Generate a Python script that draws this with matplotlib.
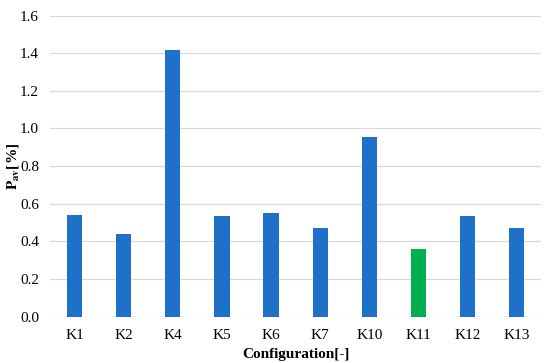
import matplotlib
matplotlib.use("Agg")
import matplotlib.pyplot as plt

categories = ["K1", "K2", "K4", "K5", "K6", "K7", "K10", "K11", "K12", "K13"]
values = [0.539, 0.438, 1.415, 0.536, 0.550, 0.470, 0.956, 0.358, 0.536, 0.473]
colors = ["#1F70C8"] * 10
colors[7] = "#00B050"
yticks = [0.0, 0.2, 0.4, 0.6, 0.8, 1.0, 1.2, 1.4, 1.6]

plt.rcParams['font.family'] = 'serif'
plt.rcParams['font.serif'] = ['Liberation Serif', 'Times New Roman', 'DejaVu Serif']
plt.rcParams['mathtext.fontset'] = 'stix'

fig = plt.figure(figsize=(5.5, 3.63), dpi=100)
ax = fig.add_axes([0.091, 0.128, 0.893, 0.829])
x = list(range(len(categories)))
ax.bar(x, values, width=0.31, color=colors, zorder=3)
ax.set_xlim(-0.5, len(categories) - 0.5)
ax.set_ylim(0, 1.6)
ax.set_yticks(yticks)
ax.set_yticklabels([f"{t:.1f}" for t in yticks], fontsize=11)
ax.set_xticks(x)
ax.set_xticklabels(categories, fontsize=11)
ax.grid(axis='y', color='#D9D9D9', linewidth=0.9, zorder=0)
for s in ax.spines.values():
    s.set_visible(False)
ax.tick_params(axis='x', length=0, pad=9)
ax.tick_params(axis='y', length=0, pad=8)
ax.set_xlabel("Configuration[-]", fontsize=11, fontweight='bold', labelpad=4)
ax.set_ylabel(r"$\mathbf{P}_{\mathbf{av}}$[%]", fontsize=11, fontweight='bold')
ax.yaxis.set_label_coords(-0.076, 0.5)
ax.yaxis.label.set_verticalalignment('center')
fig.savefig("out.png", dpi=100)
